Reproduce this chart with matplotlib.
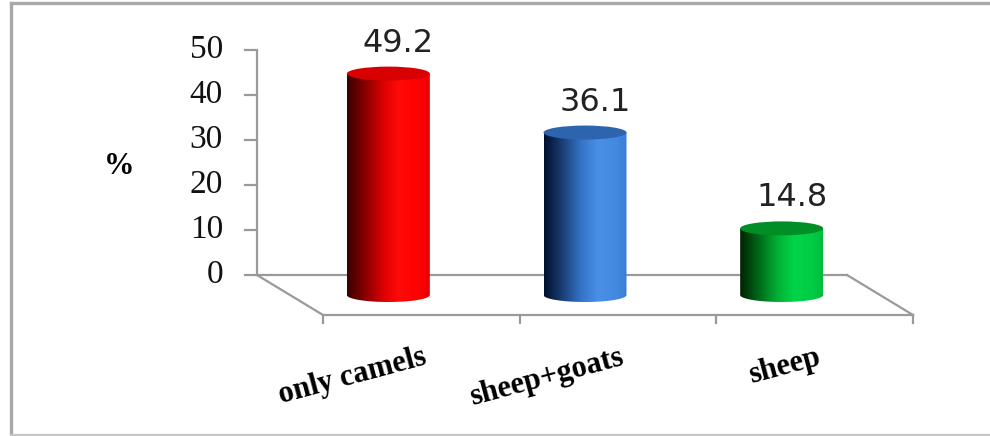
import numpy as np
import matplotlib
matplotlib.use("Agg")
import matplotlib.pyplot as plt
from matplotlib.colors import LinearSegmentedColormap
from matplotlib.patches import PathPatch, Ellipse
from matplotlib.path import Path

# ---- data ----
categories = ["only camels", "sheep+goats", "sheep"]
values = [49.2, 36.1, 14.8]
value_labels = ["49.2", "36.1", "14.8"]
yticks = [0, 10, 20, 30, 40, 50]
ylabel = "%"

# ---- styles ----
body_stops = [
    [(0.0, "#3a0000"), (0.18, "#7a0000"), (0.45, "#e00000"), (0.62, "#ff0a0a"), (0.88, "#ff0000"), (1.0, "#e80000")],
    [(0.0, "#00112e"), (0.18, "#163566"), (0.45, "#3474c8"), (0.65, "#4a8fe6"), (0.88, "#4389e0"), (1.0, "#3a7dd4")],
    [(0.0, "#002200"), (0.18, "#005a14"), (0.45, "#00b034"), (0.65, "#00d448"), (0.88, "#00cc44"), (1.0, "#00bb3c")],
]
top_colors = ["#d80000", "#2c64ae", "#008f26"]
line_col = "#9a9a9a"

W, H, DPI = 990, 436, 100
fig = plt.figure(figsize=(W / DPI, H / DPI), dpi=DPI)
fig.patch.set_facecolor("white")

# geometry (pixels)
ox, oy = 257.0, 275.0          # back-plane origin (value 0, left)
cat_px = 196.67                # px per category
unit_px = 4.5                  # px per % unit
depth_x, depth_y = 66.0, 40.0  # floor depth offset

ax = fig.add_axes([0, 0, 1, 1])
ax.set_xlim(-ox / cat_px, (W - ox) / cat_px)
ax.set_ylim((oy - H) / unit_px, oy / unit_px)
ax.axis("off")

px_x = lambda p: p / cat_px
px_y = lambda p: p / unit_px
dx, dy = px_x(depth_x), px_y(depth_y)
n = len(categories)
ymax = yticks[-1]

# outer frame
fig.add_artist(plt.Line2D([10.5 / W, 10.5 / W], [1.5 / H, (H - 3) / H], color="#a8a8a8", lw=2.4, transform=fig.transFigure))
fig.add_artist(plt.Line2D([10.5 / W, 1], [(H - 3) / H, (H - 3) / H], color="#a8a8a8", lw=2.4, transform=fig.transFigure))
fig.add_artist(plt.Line2D([10.5 / W, 1], [1.5 / H, 1.5 / H], color="#c4c4c4", lw=1.6, transform=fig.transFigure))

# back wall axis + ticks
ax.plot([0, 0], [0, ymax], color=line_col, lw=1.6, solid_capstyle="butt")
for t in yticks:
    ax.plot([-px_x(12), 0], [t, t], color=line_col, lw=1.6)
    ax.text(-px_x(34), t, str(t), ha="right", va="center", fontsize=24,
            family="Liberation Serif", color="#111111")

# floor
ax.plot([0, n], [0, 0], color=line_col, lw=1.6)
ax.plot([0, dx], [0, -dy], color=line_col, lw=1.6)
ax.plot([n, n + dx], [0, -dy], color=line_col, lw=1.6)
ax.plot([dx, n + dx], [-dy, -dy], color=line_col, lw=1.6)
for i in range(n + 1):
    ax.plot([i + dx, i + dx], [-dy, -dy - px_y(8)], color=line_col, lw=1.6)

ax.text(-px_x(138), px_y(275 - 166), ylabel, ha="center", va="center", fontsize=22,
        family="Liberation Serif", fontweight="bold")

# cylinders
rw = px_x(41.5)
ry = px_y(7.0)
grad = np.linspace(0, 1, 256).reshape(1, -1)
th = np.linspace(np.pi, 2 * np.pi, 60)
for i, (v, lab) in enumerate(zip(values, value_labels)):
    cx = i + 0.5 + dx / 2
    base = -dy / 2
    top = v - dy / 2
    verts = [(cx - rw, top), (cx - rw, base)]
    verts += [(cx + rw * np.cos(t), base + ry * np.sin(t)) for t in th]
    verts += [(cx + rw, top), (cx - rw, top)]
    codes = [Path.MOVETO] + [Path.LINETO] * (len(verts) - 2) + [Path.CLOSEPOLY]
    patch = PathPatch(Path(verts, codes), facecolor="none", edgecolor="none")
    ax.add_patch(patch)
    cmap = LinearSegmentedColormap.from_list(f"c{i}", body_stops[i])
    im = ax.imshow(grad, cmap=cmap, extent=(cx - rw, cx + rw, base - ry, top),
                   aspect="auto", interpolation="bilinear", zorder=3)
    im.set_clip_path(patch)
    ax.add_patch(Ellipse((cx, top), 2 * rw, 2 * ry, facecolor=top_colors[i],
                         edgecolor="none", zorder=4))
    ax.text(cx + px_x(10), top + ry + px_y(8), lab, ha="center", va="bottom",
            fontsize=23, family="DejaVu Sans", color="#222222", zorder=5)

# category labels
for i, c in enumerate(categories):
    ax.text(i + 0.5 + dx + px_x(1), -dy - px_y(28), c, rotation=15, rotation_mode="anchor",
            ha="right", va="top", fontsize=22, family="Liberation Serif", fontweight="bold")

fig.savefig("out.png", dpi=DPI)
